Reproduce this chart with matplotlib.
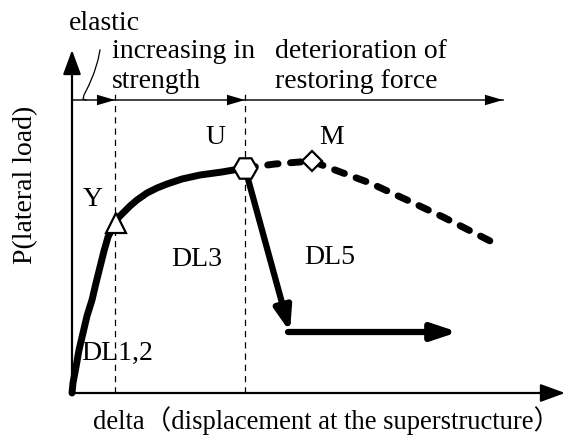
import matplotlib
matplotlib.use("Agg")
import matplotlib.pyplot as plt

# ---- schematic data (delta, P) in drawing units ----
curve_delta = [0, 1, 4, 7, 11, 15, 20, 24, 28, 32, 36, 43, 47, 52, 58, 65, 75, 85, 95, 110, 128, 150, 173]
curve_P = [0, 10, 26, 43, 60, 77, 93, 110, 126, 142, 156, 170, 176, 181, 187, 193, 200, 205, 209, 214, 218, 221, 225]

dashed_delta = [173, 203, 240, 255, 298, 335, 371, 426]
dashed_P = [225, 229, 232, 226, 210, 193, 176, 148]

drop_delta = [173, 218]
drop_P = [225, 61]
resid_delta = [218, 386]
resid_P = [61, 61]

Y_pt = (44, 170)
U_pt = (173, 225)
M_pt = (240, 232)

boundaries = [43, 173]
stage_arrow_y = 293
stage_arrow_end = 431

squig_x = [28, 26, 22, 17, 12, 11, 14]
squig_y = [343, 333, 320, 308, 298, 294, 293]

font = 'Liberation Serif'
fs = 20

fig = plt.figure(figsize=(5.65, 4.38), dpi=100)
ax = fig.add_axes([0, 0, 1, 1])
ax.set_xlim(-72, 493)
ax.set_ylim(-45, 393)
ax.axis('off')

# axes with arrows
ax.annotate('', xy=(0, 343), xytext=(0, -1),
            arrowprops=dict(arrowstyle='-|>,head_length=1.5,head_width=0.55',
                            lw=1.6, color='black', shrinkA=0, shrinkB=0))
ax.annotate('', xy=(493, 0), xytext=(-1, 0),
            arrowprops=dict(arrowstyle='-|>,head_length=1.5,head_width=0.55',
                            lw=1.6, color='black', shrinkA=0, shrinkB=0))

# stage arrow line at top
ax.plot([0, stage_arrow_end], [stage_arrow_y, stage_arrow_y], color='#333333', lw=1.3)
for xe in [boundaries[0], boundaries[1], stage_arrow_end]:
    ax.annotate('', xy=(xe, stage_arrow_y), xytext=(xe - 25, stage_arrow_y),
                arrowprops=dict(arrowstyle='-|>,head_length=1.3,head_width=0.38',
                                lw=0, color='black', shrinkA=0, shrinkB=0))

# dashed boundaries
for xb in boundaries:
    ax.plot([xb, xb], [0, 300], color='black', lw=0.9, ls=(0, (5, 4)))

# squiggle
ax.plot(squig_x, squig_y, color='black', lw=0.9)

# main curve
ax.plot(curve_delta, curve_P, color='black', lw=5, solid_capstyle='round', solid_joinstyle='round')
# dashed post-peak
ax.plot(dashed_delta, dashed_P, color='black', lw=5, ls=(0, (1.5, 1.8)), dash_capstyle='round')

# drop arrow
ax.annotate('', xy=(drop_delta[1], drop_P[1]), xytext=(drop_delta[0], drop_P[0]),
            arrowprops=dict(arrowstyle='-|>,head_length=1.4,head_width=0.5',
                            lw=4.5, color='black', shrinkA=0, shrinkB=0))
ax.annotate('', xy=(resid_delta[1], resid_P[1]), xytext=(resid_delta[0] - 2, resid_P[0]),
            arrowprops=dict(arrowstyle='-|>,head_length=1.5,head_width=0.5',
                            lw=4.5, color='black', shrinkA=0, shrinkB=0))

# markers
ax.plot(*Y_pt, marker='^', ms=15, mfc='white', mec='black', mew=1.6, zorder=5)
ax.plot(*U_pt, marker='H', ms=17, mfc='white', mec='black', mew=1.6, zorder=5)
ax.plot(*M_pt, marker='D', ms=10, mfc='white', mec='black', mew=1.6, zorder=5)

kw = dict(fontsize=fs, family=font, color='black')
ax.text(-3, 370, 'elastic', ha='left', va='center', **kw)
ax.text(40, 342, 'increasing in', ha='left', va='center', **kw)
ax.text(40, 312, 'strength', ha='left', va='center', **kw)
ax.text(203, 342, 'deterioration of', ha='left', va='center', **kw)
ax.text(203, 312, 'restoring force', ha='left', va='center', **kw)
ax.text(143, 255, 'U', ha='center', va='center', **kw)
ax.text(260, 255, 'M', ha='center', va='center', **kw)
ax.text(21, 193, 'Y', ha='center', va='center', **kw)
ax.text(125, 134, 'DL3', ha='center', va='center', **kw)
ax.text(258, 135, 'DL5', ha='center', va='center', **kw)
ax.text(45, 40, 'DL1,2', ha='center', va='center', **kw)
ax.text(-46, 208, 'P(lateral load)', ha='center', va='center', rotation=90, **kw)
ax.text(21, -28, 'delta（displacement at the superstructure）', ha='left', va='center',
        fontsize=19.2, family=[font, 'Noto Sans CJK SC'], color='black')

fig.savefig('out.png', dpi=100)
